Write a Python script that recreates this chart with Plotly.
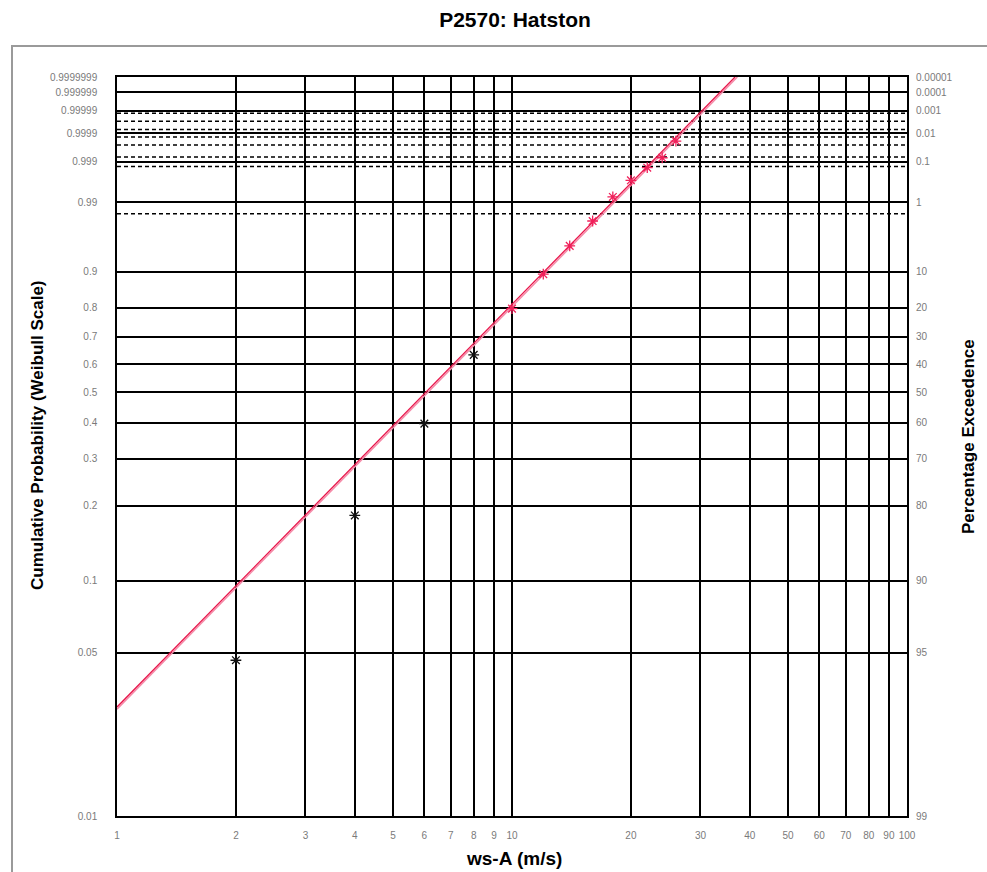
import numpy as np
import plotly.graph_objects as go

# ---- data ----
x_black = [2, 4, 6, 8]
p_black = [0.0465, 0.183, 0.397, 0.634]

x_red = [10, 12, 14, 16, 18, 20, 22, 24, 26]
p_red = [0.797, 0.8946, 0.9494, 0.9782, 0.99228, 0.9968, 0.99852, 0.99925, 0.999797]

fit_x = [1, 36.7]
fit_p = [0.0294, 0.9999999]
fit2_x = [1, 37.2]
fit2_p = [0.0288, 0.9999999]

y_tick_p = [0.01, 0.05, 0.1, 0.2, 0.3, 0.4, 0.5, 0.6, 0.7, 0.8, 0.9,
            0.99, 0.999, 0.9999, 0.99999, 0.999999, 0.9999999]
y_tick_left = ["0.01", "0.05", "0.1", "0.2", "0.3", "0.4", "0.5", "0.6", "0.7", "0.8", "0.9",
               "0.99", "0.999", "0.9999", "0.99999", "0.999999", "0.9999999"]
y_tick_right = ["99", "95", "90", "80", "70", "60", "50", "40", "30", "20", "10",
                "1", "0.1", "0.01", "0.001", "0.0001", "0.00001"]

dashed_exceed = [0.0163, 0.00138, 0.000715, 0.000284, 0.000144, 0.000071, 0.0000313, 0.0000132]

x_ticks = [1, 2, 3, 4, 5, 6, 7, 8, 9, 10, 20, 30, 40, 50, 60, 70, 80, 90, 100]
x_tick_text = [str(v) for v in x_ticks]


def w(p):
    p = np.asarray(p, dtype=float)
    return np.log(-np.log(1.0 - p))


def w_exc(q):
    q = np.asarray(q, dtype=float)
    return np.log(-np.log(q))


y_lo = float(w(0.01))
y_hi = float(w(0.9999999))

fig = go.Figure()

fig.add_trace(go.Scatter(x=fit2_x, y=w(fit2_p), mode="lines",
                         line=dict(color="#F58AA8", width=1.5), hoverinfo="skip",
                         showlegend=False))
fig.add_trace(go.Scatter(x=fit_x, y=w(fit_p), mode="lines",
                         line=dict(color="#E8154A", width=1.3), hoverinfo="skip",
                         showlegend=False))
fig.add_trace(go.Scatter(x=x_black, y=w(p_black), mode="markers",
                         marker=dict(symbol="asterisk-open", size=9, color="#111111",
                                     line=dict(color="#111111", width=1.3)),
                         showlegend=False))
fig.add_trace(go.Scatter(x=x_red, y=w(p_red), mode="markers",
                         marker=dict(symbol="asterisk-open", size=9, color="#F0205A",
                                     line=dict(color="#F0205A", width=1.3)),
                         showlegend=False))
# invisible trace for right axis
fig.add_trace(go.Scatter(x=[1], y=[y_lo], yaxis="y2", mode="markers",
                         marker=dict(opacity=0), hoverinfo="skip", showlegend=False))

shapes = []
for q in dashed_exceed:
    yv = float(w_exc(q))
    shapes.append(dict(type="line", xref="paper", yref="y", x0=0, x1=1, y0=yv, y1=yv,
                       line=dict(color="black", width=1.5, dash="4px,3px"), layer="below"))

# outer chart border
L, R, T, B = 117, 907, 77, 816
pw, ph = R - L, B - T
def px_x(px):
    return (px - L) / pw
def px_y(py):
    return (B - py) / ph

shapes.append(dict(type="rect", xref="paper", yref="paper",
                   x0=px_x(12), x1=px_x(992), y0=px_y(46), y1=px_y(880),
                   line=dict(color="#9a9a9a", width=2), fillcolor="rgba(0,0,0,0)"))

tick_font = dict(family="Liberation Sans, Arial, sans-serif", size=10, color="#7a7a7a")
axis_title_font = dict(family="Liberation Sans, Arial, sans-serif", size=17, color="black")
x_title_font = dict(family="Liberation Sans, Arial, sans-serif", size=19, color="black")

fig.update_layout(
    width=987, height=872,
    margin=dict(l=L, r=987 - R, t=T, b=872 - B),
    paper_bgcolor="white", plot_bgcolor="white",
    title=dict(text="<b>P2570: Hatston</b>", x=(515) / 987, xanchor="center",
               y=1 - 20 / 872, yanchor="middle",
               font=dict(family="Liberation Sans, Arial, sans-serif", size=21, color="black")),
    xaxis=dict(type="log", range=[0, 2], tickvals=x_ticks, ticktext=x_tick_text,
               showgrid=True, gridcolor="black", gridwidth=1.5,
               showline=True, linecolor="black", linewidth=1.5, mirror=True,
               ticks="", tickfont=tick_font, ticklabelstandoff=9, zeroline=False),
    yaxis=dict(range=[y_lo, y_hi], tickvals=list(w(y_tick_p)), ticktext=y_tick_left,
               showgrid=True, gridcolor="black", gridwidth=1.5,
               showline=True, linecolor="black", linewidth=1.5, mirror=True,
               ticks="", tickfont=tick_font, ticklabelstandoff=16, zeroline=False),
    yaxis2=dict(range=[y_lo, y_hi], overlaying="y", side="right",
                tickvals=list(w(y_tick_p)), ticktext=y_tick_right,
                showgrid=False, ticks="", tickfont=tick_font, ticklabelstandoff=8,
                zeroline=False, showline=False),
    shapes=shapes,
    annotations=[
        dict(text="<b>Cumulative Probability (Weibull Scale)</b>", xref="paper", yref="paper",
             x=px_x(38), y=px_y(435), textangle=-90, showarrow=False, font=axis_title_font,
             xanchor="center", yanchor="middle"),
        dict(text="<b>Percentage Exceedence</b>", xref="paper", yref="paper",
             x=px_x(968), y=px_y(437), textangle=-90, showarrow=False, font=axis_title_font,
             xanchor="center", yanchor="middle"),
        dict(text="<b>ws-A (m/s)</b>", xref="paper", yref="paper",
             x=px_x(514), y=px_y(858), showarrow=False, font=x_title_font,
             xanchor="center", yanchor="middle"),
    ],
)

fig.write_html("out.html", config={"displayModeBar": False},
               post_script="document.body.style.margin='0';document.body.style.overflow='hidden';")
